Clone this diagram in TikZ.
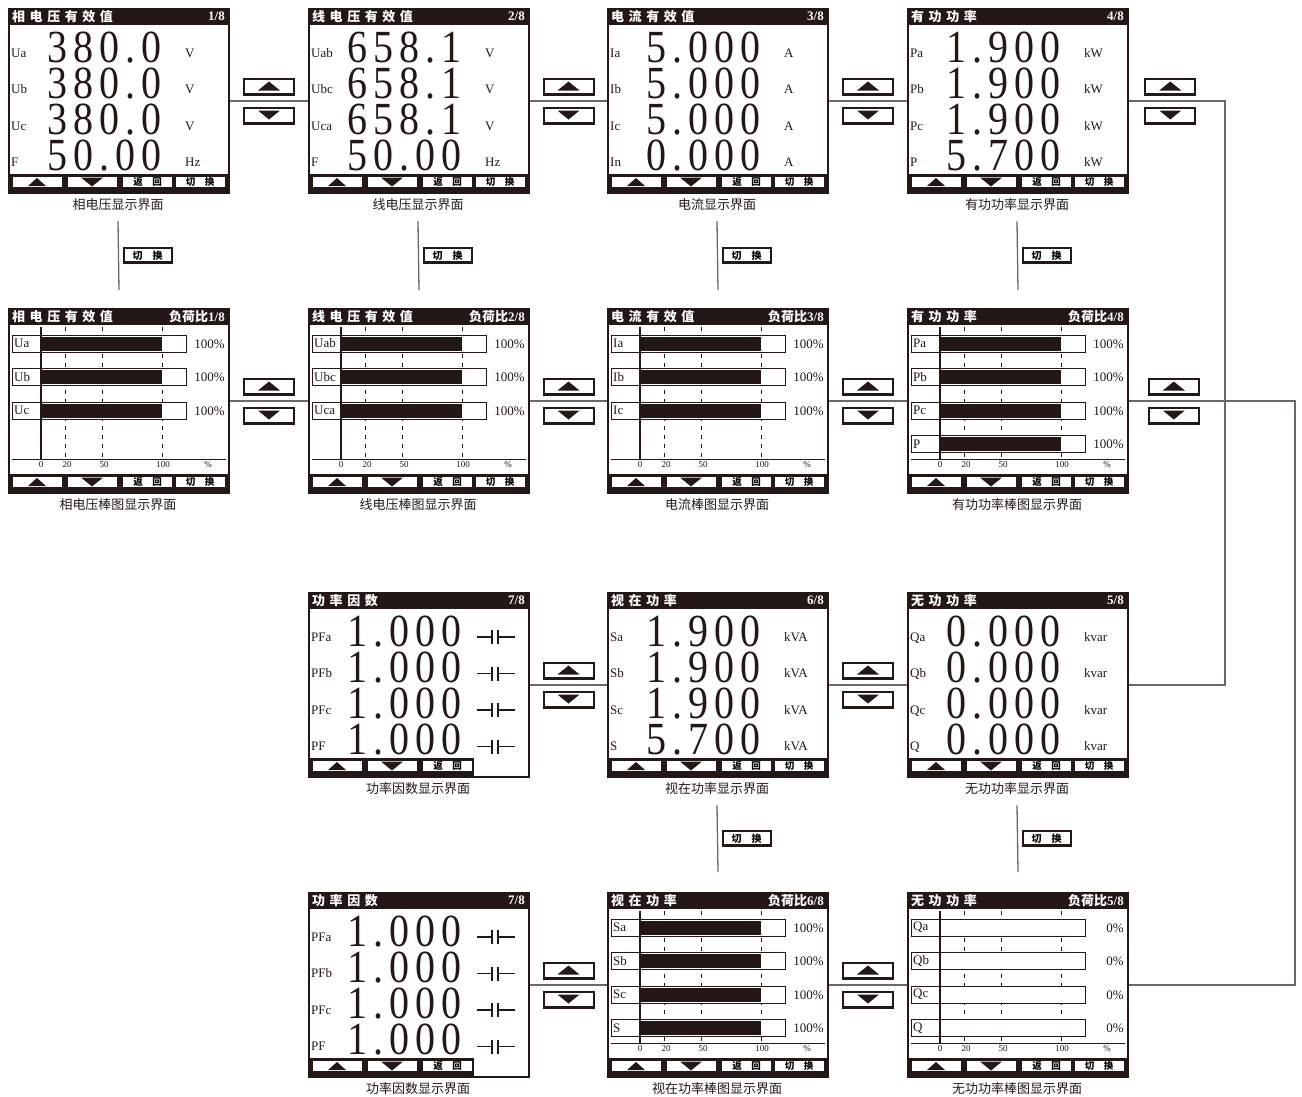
\documentclass[tikz,border=0pt]{standalone}
\usepackage{fontspec}
\setmainfont{Liberation Serif}
\newfontfamily\cjk{Noto Sans CJK SC}
\newfontfamily\cjksp{Noto Sans CJK SC}[LetterSpace=35]
\newfontfamily\lcd{Liberation Serif}[FakeStretch=0.87,LetterSpace=13]
\usepackage{tikz}
\usetikzlibrary{positioning,calc}
\definecolor{ink}{HTML}{231815}
\definecolor{wire}{HTML}{6F6867}

% title bar, key bar, frame and caption of one page
\newcommand{\lcdframe}[4]{%
  \fill[ink] (0,0) rectangle (220,17);
  \node[ttl, anchor=west] (#1-t) at (4,8.5) {\cjksp #2};
  \node[ttl, anchor=east] (#1-n) at (217,8.5) {#3};
  \fill[ink] (0,166) rectangle (166,184);
  \node[keyup] (#1-k1) at (29,174) {};
  \node[keydn] (#1-k2) at (84,174) {};
  \node[key] (#1-k3) at (139.5,174) {返\quad 回};
  \node[capt] (#1-c) at (110,197) {#4};
  \node[scr] (#1) at (0,0) {};
}
% fourth key
\newcommand{\lcdswitch}[1]{%
  \fill[ink] (166,166) rectangle (220,184);
  \node[key] (#1-k4) at (192,174) {切\quad 换};
}
% four value rows
\newcommand{\lcdvalues}[2]{%
  \foreach \lb/\val/\un [count=\i from 0] in {#2} {
    \node[lbl] (#1-l\i) at (3,49+36.5*\i) {\lb};
    \node[num] (#1-v\i) at (39,54+36*\i) {\val};
    \node[lbl] (#1-u\i) at (177,49+36.5*\i) {\un};
  }
}
% power factor rows
\newcommand{\lcdpf}[2]{%
  \foreach \lb [count=\i from 0] in {#2} {
    \node[lbl] (#1-l\i) at (3,49+36.5*\i) {\lb};
    \node[num] (#1-v\i) at (39,54+36*\i) {1.000};
    \draw[ink, line width=1.3pt] (169,45+36.5*\i) -- (184,45+36.5*\i)
      (184,38+36.5*\i) -- (184,52+36.5*\i) (190,38+36.5*\i) -- (190,52+36.5*\i)
      (190,45+36.5*\i) -- (207,45+36.5*\i);
  }
}
% bar rows with axis
\newcommand{\lcdbars}[2]{%
  \draw[ink, line width=1pt] (4,151) -- (218,151);
  \foreach \xx in {57,94,154}
    \draw[ink, line width=1pt, dash pattern=on 4pt off 5pt] (\xx,19) -- (\xx,151);
  \foreach \lb/\pv [count=\i from 0] in {#2} {
    \draw[ink, fill=white, line width=0.9pt] (4,27+33.5*\i) rectangle (178,44+33.5*\i);
    \fill[ink] (33,28.5+33.5*\i) rectangle (33+1.21*\pv,42.5+33.5*\i);
    \node[barlbl] (#1-l\i) at (6,35.5+33.5*\i) {\lb};
    \node[pct] (#1-p\i) at (217,36+33.5*\i) {\pv\%};
  }
  \draw[ink, line width=1.2pt] (33,19) -- (33,151);
  \foreach \xx/\tk [count=\j] in {33/0,59/20,96/50,155/100,200/\%}
    \node[tick] (#1-x\j) at (\xx,156.5) {\tk};
}

\begin{document}
\begin{tikzpicture}[
  x=1pt, y=-1pt,
  scr/.style={draw=ink, line width=2pt, anchor=north west, inner sep=0pt,
              minimum width=220pt, minimum height=184pt},
  ttl/.style={text=white, inner sep=0pt, font=\bfseries\fontsize{13}{13}\selectfont},
  key/.style={draw=ink, fill=white, line width=1pt, inner sep=0pt,
              minimum width=50pt, minimum height=11pt,
              font=\cjk\bfseries\fontsize{9.5}{9.5}\selectfont},
  keyup/.style={key, path picture={\fill[ink] ([shift={(-9pt,-4pt)}]path picture bounding box.center)
              -- ++(18pt,0pt) -- ++(-9pt,8pt) -- cycle;}},
  keydn/.style={key, path picture={\fill[ink] ([shift={(-11pt,4.5pt)}]path picture bounding box.center)
              -- ++(22pt,0pt) -- ++(-11pt,-9pt) -- cycle;}},
  capt/.style={text=ink, inner sep=1pt, font=\cjk\fontsize{13}{13}\selectfont},
  lbl/.style={text=ink, anchor=base west, inner sep=0pt, font=\fontsize{13}{13}\selectfont},
  num/.style={text=ink, anchor=base west, inner sep=0pt, font=\lcd\fontsize{46}{46}\selectfont},
  barlbl/.style={text=ink, anchor=west, inner sep=0pt, font=\fontsize{13}{13}\selectfont},
  pct/.style={text=ink, anchor=east, inner sep=0pt, font=\fontsize{13}{13}\selectfont},
  tick/.style={text=ink, inner sep=0pt, font=\fontsize{9}{9}\selectfont},
  nav/.style={draw=ink, fill=white, line width=2pt, inner sep=0pt,
              minimum width=50pt, minimum height=16pt},
  navup/.style={nav, path picture={
              \fill[ink] (path picture bounding box.south west)
                rectangle ([yshift=2.5pt]path picture bounding box.south east);
              \fill[ink] ([shift={(-11pt,-3.5pt)}]path picture bounding box.center)
                -- ++(22pt,0pt) -- ++(-11pt,9pt) -- cycle;}},
  navdn/.style={nav, path picture={
              \fill[ink] (path picture bounding box.south west)
                rectangle ([yshift=2.5pt]path picture bounding box.south east);
              \fill[ink] ([shift={(-11pt,5.5pt)}]path picture bounding box.center)
                -- ++(22pt,0pt) -- ++(-11pt,-9pt) -- cycle;}},
  swkey/.style={draw=ink, fill=white, line width=2pt, inner sep=0pt,
              minimum width=48pt, minimum height=15pt,
              font=\cjk\bfseries\fontsize{10}{10}\selectfont,
              path picture={\fill[ink] (path picture bounding box.south west)
                rectangle ([yshift=2.5pt]path picture bounding box.south east);}},
  link/.style={draw=wire, line width=1.3pt},
]
\useasboundingbox (0,0) rectangle (1302,1096);

% value pages
\begin{scope}[shift={(8,8)}]
  \lcdframe{u1}{相电压有效值}{1/8}{相电压显示界面}\lcdswitch{u1}
  \lcdvalues{u1}{Ua/380.0/V, Ub/380.0/V, Uc/380.0/V, F/50.00/Hz}
\end{scope}
\begin{scope}[shift={(308,8)}]
  \lcdframe{u2}{线电压有效值}{2/8}{线电压显示界面}\lcdswitch{u2}
  \lcdvalues{u2}{Uab/658.1/V, Ubc/658.1/V, Uca/658.1/V, F/50.00/Hz}
\end{scope}
\begin{scope}[shift={(607,8)}]
  \lcdframe{u3}{电流有效值}{3/8}{电流显示界面}\lcdswitch{u3}
  \lcdvalues{u3}{Ia/5.000/A, Ib/5.000/A, Ic/5.000/A, In/0.000/A}
\end{scope}
\begin{scope}[shift={(907,8)}]
  \lcdframe{u4}{有功功率}{4/8}{有功功率显示界面}\lcdswitch{u4}
  \lcdvalues{u4}{Pa/1.900/kW, Pb/1.900/kW, Pc/1.900/kW, P/5.700/kW}
\end{scope}

% bar pages
\begin{scope}[shift={(8,308)}]
  \lcdframe{b1}{相电压有效值}{{\cjk 负荷比}1/8}{相电压棒图显示界面}\lcdswitch{b1}
  \lcdbars{b1}{Ua/100, Ub/100, Uc/100}
\end{scope}
\begin{scope}[shift={(308,308)}]
  \lcdframe{b2}{线电压有效值}{{\cjk 负荷比}2/8}{线电压棒图显示界面}\lcdswitch{b2}
  \lcdbars{b2}{Uab/100, Ubc/100, Uca/100}
\end{scope}
\begin{scope}[shift={(607,308)}]
  \lcdframe{b3}{电流有效值}{{\cjk 负荷比}3/8}{电流棒图显示界面}\lcdswitch{b3}
  \lcdbars{b3}{Ia/100, Ib/100, Ic/100}
\end{scope}
\begin{scope}[shift={(907,308)}]
  \lcdframe{b4}{有功功率}{{\cjk 负荷比}4/8}{有功功率棒图显示界面}\lcdswitch{b4}
  \lcdbars{b4}{Pa/100, Pb/100, Pc/100, P/100}
\end{scope}

% power factor, apparent and reactive power
\begin{scope}[shift={(308,592)}]
  \lcdframe{pf}{功率因数}{7/8}{功率因数显示界面}
  \lcdpf{pf}{PFa, PFb, PFc, PF}
\end{scope}
\begin{scope}[shift={(607,592)}]
  \lcdframe{s}{视在功率}{6/8}{视在功率显示界面}\lcdswitch{s}
  \lcdvalues{s}{Sa/1.900/kVA, Sb/1.900/kVA, Sc/1.900/kVA, S/5.700/kVA}
\end{scope}
\begin{scope}[shift={(907,592)}]
  \lcdframe{q}{无功功率}{5/8}{无功功率显示界面}\lcdswitch{q}
  \lcdvalues{q}{Qa/0.000/kvar, Qb/0.000/kvar, Qc/0.000/kvar, Q/0.000/kvar}
\end{scope}
\begin{scope}[shift={(308,892)}]
  \lcdframe{pf2}{功率因数}{7/8}{功率因数显示界面}
  \lcdpf{pf2}{PFa, PFb, PFc, PF}
\end{scope}
\begin{scope}[shift={(607,892)}]
  \lcdframe{sb}{视在功率}{{\cjk 负荷比}6/8}{视在功率棒图显示界面}\lcdswitch{sb}
  \lcdbars{sb}{Sa/100, Sb/100, Sc/100, S/100}
\end{scope}
\begin{scope}[shift={(907,892)}]
  \lcdframe{qb}{无功功率}{{\cjk 负荷比}5/8}{无功功率棒图显示界面}\lcdswitch{qb}
  \lcdbars{qb}{Qa/0, Qb/0, Qc/0, Q/0}
\end{scope}

% up / down links
\draw[link] (u1.east) -- node[navup, above=5pt] (k1u) {} node[navdn, below=6pt] (k1d) {} (u2.west);
\draw[link] (u2.east) -- node[navup, above=5pt] (k2u) {} node[navdn, below=6pt] (k2d) {} (u3.west);
\draw[link] (u3.east) -- node[navup, above=5pt] (k3u) {} node[navdn, below=6pt] (k3d) {} (u4.west);
\draw[link] (b1.east) -- node[navup, above=5pt] (k5u) {} node[navdn, below=6pt] (k5d) {} (b2.west);
\draw[link] (b2.east) -- node[navup, above=5pt] (k6u) {} node[navdn, below=6pt] (k6d) {} (b3.west);
\draw[link] (b3.east) -- node[navup, above=5pt] (k7u) {} node[navdn, below=6pt] (k7d) {} (b4.west);
\draw[link] (pf.east) -- node[navup, above=5pt] (k9u) {} node[navdn, below=6pt] (k9d) {} (s.west);
\draw[link] (s.east) -- node[navup, above=5pt] (k10u) {} node[navdn, below=6pt] (k10d) {} (q.west);
\draw[link] (pf2.east) -- node[navup, above=5pt] (k11u) {} node[navdn, below=6pt] (k11d) {} (sb.west);
\draw[link] (sb.east) -- node[navup, above=5pt] (k12u) {} node[navdn, below=6pt] (k12d) {} (qb.west);

% right side returns
\coordinate (r1) at (1225,100);
\coordinate (r2) at (1295,400);
\draw[link] (u4.east) -- node[pos=0.43, navup, above=5pt] (k4u) {} node[pos=0.43, navdn, below=6pt] (k4d) {}
  (u4.east -| r1) |- (q.east);
\draw[link] (b4.east) -- node[pos=0.27, navup, above=5pt] (k8u) {} node[pos=0.27, navdn, below=6pt] (k8d) {}
  (b4.east -| r2) |- (qb.east);

% switch links
\draw[link] ([yshift=-9pt]u1-c.south) -- node[swkey, right=4pt] (w1) {切\quad 换} ([yshift=18pt]b1.north);
\draw[link] ([yshift=-9pt]u2-c.south) -- node[swkey, right=4pt] (w2) {切\quad 换} ([yshift=18pt]b2.north);
\draw[link] ([yshift=-9pt]u3-c.south) -- node[swkey, right=4pt] (w3) {切\quad 换} ([yshift=18pt]b3.north);
\draw[link] ([yshift=-9pt]u4-c.south) -- node[swkey, right=4pt] (w4) {切\quad 换} ([yshift=18pt]b4.north);
\draw[link] ([yshift=-9pt]s-c.south) -- node[swkey, right=4pt] (w5) {切\quad 换} ([yshift=20pt]sb.north);
\draw[link] ([yshift=-9pt]q-c.south) -- node[swkey, right=4pt] (w6) {切\quad 换} ([yshift=20pt]qb.north);
\end{tikzpicture}
\end{document}
